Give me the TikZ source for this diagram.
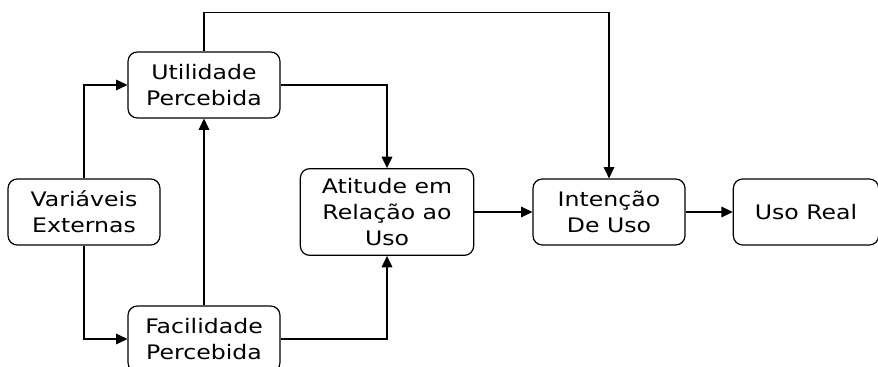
\documentclass[tikz,border=0pt]{standalone}
\usepackage{fontspec}
\setmainfont{DejaVu Sans}[FakeStretch=1.18]
\usetikzlibrary{arrows.meta,positioning}

\begin{document}
\begin{tikzpicture}[on grid,
	block/.style={draw, rounded corners=7pt, line width=0.9pt, align=center, minimum width=114pt, minimum height=49.5pt, font=\fontsize{15}{19.5}\selectfont},
	every path/.style={line width=0.9pt},
	>={Triangle[length=8.5pt,width=8pt]}]
\useasboundingbox (0,0) rectangle (658.5pt,-275.25pt);
\node[block]								(var)		at (63pt,-159pt)						{Variáveis\\Externas};
\node[block]								(util)		[above right=95.25pt and 90pt of var]	{Utilidade\\Percebida};
\node[block]								(facil)		[below right=95.25pt and 90pt of var]	{Facilidade\\Percebida};
\node[block, minimum width=130pt, minimum height=65pt]	(atit)		[right=227.25pt of var]	{Atitude em\\Relação ao\\Uso};
\node[block]								(int)		[right=166.5pt of atit]					{Intenção\\De Uso};
\node[block, minimum width=109pt]			(uso)		[right=147.75pt of int]					{Uso Real};
\path (util.north) ++(0,29.25pt) coordinate (topo);

\draw[->]	(var.north)		|-	(util.west);
\draw[->]	(var.south)		|-	(facil.west);
\draw[->]	(facil.north)	--	(util.south);
\draw[->]	(util.east)		-|	(atit.north);
\draw[->]	(facil.east)	-|	(atit.south);
\draw[->]	(util.north)	--	(topo)	-|	(int.north);
\draw[->]	(atit.east)		--	(int.west);
\draw[->]	(int.east)		--	(uso.west);
\end{tikzpicture}
\end{document}
